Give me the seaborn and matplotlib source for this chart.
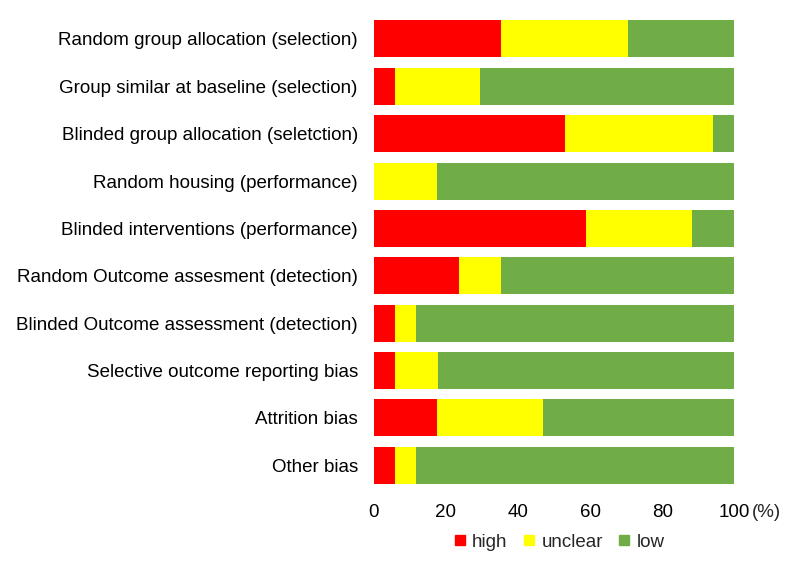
import matplotlib
matplotlib.use("Agg")
import matplotlib.pyplot as plt
import seaborn as sns
import pandas as pd
import numpy as np
from matplotlib.lines import Line2D

categories = [
    "Random group allocation (selection)",
    "Group similar at baseline (selection)",
    "Blinded group allocation (seletction)",
    "Random housing (performance)",
    "Blinded interventions (performance)",
    "Random Outcome assesment (detection)",
    "Blinded Outcome assessment (detection)",
    "Selective outcome reporting bias",
    "Attrition bias",
    "Other bias",
]
high = [35.3, 5.9, 52.9, 0.0, 58.8, 23.5, 5.9, 5.9, 17.6, 5.9]
unclear = [35.3, 23.5, 41.2, 17.6, 29.4, 11.8, 5.9, 11.8, 29.4, 5.9]
low = [29.4, 70.6, 5.9, 82.4, 11.8, 64.7, 88.2, 82.4, 52.9, 88.2]
xticks = [0, 20, 40, 60, 80, 100]

df = pd.DataFrame({"cat": categories, "high": high, "unclear": unclear, "low": low})
df["c_unclear"] = df["high"] + df["unclear"]
df["c_low"] = df["c_unclear"] + df["low"]

sns.set_theme(style="white")
plt.rcParams["font.family"] = ["Liberation Sans", "DejaVu Sans"]

fig = plt.figure(figsize=(7.87, 5.66), dpi=100)
ax = fig.add_axes([0.475, 0.136, 0.458, 0.837])

c_high, c_unc, c_low = "#FF0000", "#FFFF00", "#70AD47"
w = 0.78
fs = 13.5
for col, c in (("c_low", c_low), ("c_unclear", c_unc), ("high", c_high)):
    sns.barplot(data=df, y="cat", x=col, color=c, orient="h", width=w, ax=ax,
                saturation=1, linewidth=0, errorbar=None)

ax.set_xlim(0, 100)
ax.set_ylim(9.5, -0.5)
ax.set_xticks(xticks)
ax.set_xticklabels([str(t) for t in xticks], fontsize=fs)
ax.tick_params(axis="y", labelsize=fs, length=0, pad=11.5)
ax.tick_params(axis="x", length=0, pad=11)
ax.set_xlabel("")
ax.set_ylabel("")
for s in ax.spines.values():
    s.set_visible(False)
for lab in ax.get_yticklabels() + ax.get_xticklabels():
    lab.set_color("black")

ax.text(1.05, -0.05, "(%)", transform=ax.transAxes, fontsize=fs, va="center", ha="left")

handles = [Line2D([], [], marker="s", linestyle="none", markersize=7.5, color=c)
           for c in (c_high, c_unc, c_low)]
fig.legend(handles, ["high", "unclear", "low"], loc="center", bbox_to_anchor=(0.709, 0.042),
           ncol=3, frameon=False, fontsize=fs, handletextpad=0.2, columnspacing=0.7,
           handlelength=0.9)

fig.savefig("out.png", dpi=100)
